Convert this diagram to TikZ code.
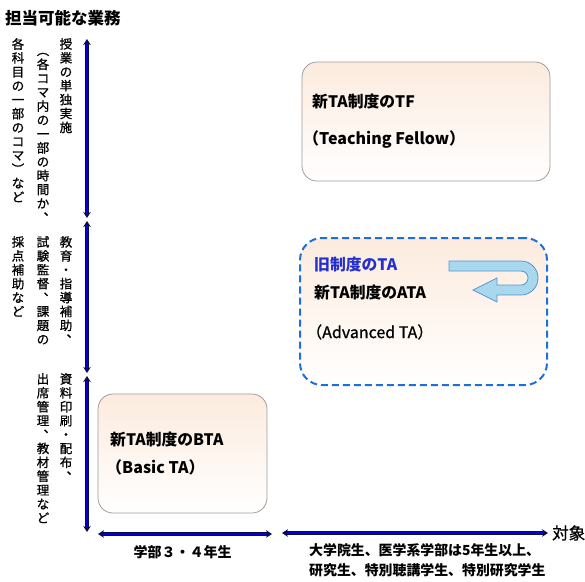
\documentclass[tikz,border=0pt]{standalone}
\usepackage{fontspec}
\setmainfont{Noto Sans CJK JP}
\newfontfamily\medfont{Noto Sans CJK JP}[FakeBold=0.9]
\usepackage{graphicx}
\usetikzlibrary{arrows.meta}
\usetikzlibrary{positioning}

\definecolor{peach}{RGB}{252,235,222}
\definecolor{framegray}{RGB}{160,156,156}
\definecolor{dashblue}{RGB}{28,112,222}
\definecolor{oldblue}{RGB}{36,48,205}
\definecolor{axisblue}{RGB}{0,0,215}
\definecolor{axisedge}{RGB}{10,10,70}
\definecolor{uturnfill}{RGB}{168,216,238}
\definecolor{uturnline}{RGB}{86,150,212}

\makeatletter
\newcommand\tate[1]{\gdef\tatesep{}%
  \@tfor\tatechar:=#1\do{\expandafter\tatesep\tatechar\gdef\tatesep{\\}}}
\makeatother
\newcommand\tten{\makebox[1em][l]{\kern.55em\raisebox{.55em}[0pt][0pt]{、}}}
\newcommand\tparL{\rotatebox[origin=c]{-90}{（}}
\newcommand\tparR{\rotatebox[origin=c]{-90}{）}}

\begin{document}
\begin{tikzpicture}[x=1pt,y=-1pt,
                    tatetext/.style={anchor=north,align=center,inner sep=0pt,
                                     font=\fontsize{12.5}{13.9}\selectfont\medfont},
                    tabox/.style={draw=framegray,line width=0.8pt,rounded corners=15pt,
                                  top color=peach,bottom color=white,inner sep=0pt},
                    boxtitle/.style={anchor=west,inner sep=0pt,
                                     font=\fontsize{15.8}{18}\selectfont\bfseries},
                    boxsub/.style={anchor=west,inner sep=0pt,
                                   font=\fontsize{16}{18}\selectfont\bfseries},
                    axisarrow/.style={{Stealth[length=6pt,width=7.5pt]}-{Stealth[length=6pt,width=7.5pt]},
                                      draw=axisedge,double=axisblue,double distance=1.8pt,
                                      line width=0.7pt}]
 \useasboundingbox (0,0) rectangle (585,581);

 \node[anchor=west,inner sep=0pt,font=\fontsize{16.5}{18}\selectfont\bfseries]
      (duty) at (5,18) {担当可能な業務};

 \coordinate (v0) at (87,39);
 \coordinate (v1) at (87,218);
 \coordinate (v2) at (87,221);
 \coordinate (v3) at (87,373);
 \coordinate (v4) at (87,376);
 \coordinate (v5) at (87,532);
 \coordinate (h0) at (98,534);
 \coordinate (h1) at (272,534);
 \coordinate (h2) at (282,533);
 \coordinate (h3) at (548,533);

 \draw[axisarrow] (v0) -- (v1);
 \draw[axisarrow] (v2) -- (v3);
 \draw[axisarrow] (v4) -- (v5);
 \draw[axisarrow] (h0) -- (h1);
 \draw[axisarrow] (h2) -- (h3);

 \node[tatetext] (tfA) at (66,38) {\tate{授業の単独実施}};
 \node[tatetext] (tfB) at (43,44) {\tate{\tparL 各コマ内の一部の時間か\tten}};
 \node[tatetext] (tfC) at (18,38) {\tate{各科目の一部のコマ\tparR など}};

 \node[tatetext] (ataA) at (66,236) {\tate{教育・指導補助\tten}};
 \node[tatetext] (ataB) at (43,236) {\tate{試験監督\tten 課題の}};
 \node[tatetext] (ataC) at (18,236) {\tate{採点補助など}};

 \node[tatetext] (btaA) at (66,373) {\tate{資料印刷・配布\tten}};
 \node[tatetext] (btaB) at (43,373) {\tate{出席管理\tten 教材管理など}};

 \node[tabox,minimum width=248pt,minimum height=119pt] (tf) at (426,121.5) {};
 \node[boxtitle] (tfname) at (312,102) {新TA制度のTF};
 \node[boxsub] (tfsub) at (303,140) {（Teaching Fellow）};

 \node[tabox,draw=dashblue,line width=2pt,dash pattern=on 7pt off 4pt,rounded corners=22pt,
       minimum width=247pt,minimum height=147pt] (ata) at (423.5,311.5) {};
 \node[boxtitle,text=oldblue] (oldta) at (314,265) {旧制度のTA};
 \node[boxtitle] (ataname) at (314,293) {新TA制度のATA};
 \node[boxsub,font=\fontsize{16}{18}\selectfont\medfont] (atasub) at (306,332) {（Advanced TA）};

 \fill[uturnfill,draw=uturnline,line width=0.8pt]
   (449,261) -- (521,261)
   .. controls (530.4,261) and (538,268.6) .. (538,278)
   .. controls (538,287.4) and (530.4,295) .. (521,295)
   -- (497,295) -- (497,302) -- (473,290) -- (497,278) -- (497,285) -- (521,285)
   .. controls (524.9,285) and (528,281.9) .. (528,278)
   .. controls (528,274.1) and (524.9,271) .. (521,271)
   -- (449,271) -- cycle;

 \node[tabox,minimum width=169pt,minimum height=119pt] (bta) at (182.5,453.5) {};
 \node[boxtitle] (btaname) at (110,440) {新TA制度のBTA};
 \node[boxsub] (btasub) at (106,467) {（Basic TA）};

 \node[inner sep=0pt,font=\fontsize{14}{16}\selectfont\bfseries] (under) at (182.5,552) {学部３・４年生};
 \node[anchor=west,inner sep=0pt,font=\fontsize{16.5}{18}\selectfont\medfont] (target) at (552,533) {対象};
 \node[anchor=north west,align=left,inner sep=0pt,
       font=\fontsize{13.9}{20}\selectfont\bfseries] (grad) at (309,543)
      {大学院生、医学系学部は5年生以上、\\研究生、特別聴講学生、特別研究学生};
\end{tikzpicture}
\end{document}
